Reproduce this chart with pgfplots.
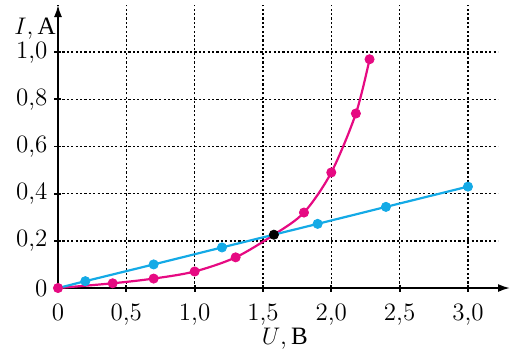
\documentclass[border=0pt]{standalone}
\usepackage{pgfplots}
\pgfplotsset{compat=1.18}
\usepackage{fontspec}
\newfontfamily\cyr{Liberation Serif}
\usetikzlibrary{arrows.meta}
\definecolor{mag}{RGB}{230,10,130}
\definecolor{cyn}{RGB}{20,170,230}
\begin{document}
\begin{tikzpicture}
\begin{axis}[name=ax, scale only axis, width=220pt, height=141.5pt,
  xmin=0, xmax=3.22, ymin=0, ymax=1.2,
  axis x line=bottom, axis y line=left,
  x axis line style={-{Latex[length=6pt,width=4pt]}, shorten >=-6pt, line width=0.9pt},
  y axis line style={-{Latex[length=6pt,width=4pt]}, line width=0.9pt},
  xtick={0,0.5,1,1.5,2,2.5,3},
  xticklabels={0,{0,5},{1,0},{1,5},{2,0},{2,5},{3,0}},
  ytick={0,0.2,0.4,0.6,0.8,1.0},
  yticklabels={0,{0,2},{0,4},{0,6},{0,8},{1,0}},
  every tick label/.append style={font=\fontsize{12.5}{14}\selectfont},
  xticklabel style={yshift=-2.5pt},
  tick align=center, major tick length=3.5pt,
  tick style={black, line width=0.9pt},
  grid=major,
  major grid style={black, line width=0.75pt, dash pattern=on 1.1pt off 1.1pt},
  clip=false,
]
\addplot[mag, line width=1.1pt, smooth, tension=0.5] coordinates {
 (0,0) (0.4,0.02) (0.7,0.04) (1.0,0.07) (1.3,0.13) (1.58,0.226) (1.8,0.32) (2.0,0.49) (2.18,0.74) (2.28,0.97)};
\addplot[cyn, line width=1.1pt] coordinates {
 (0,0) (0.2,0.029) (0.7,0.1) (1.2,0.172) (1.9,0.272) (2.4,0.344) (3.0,0.43)};
\addplot[only marks, mark=*, mark size=2.3pt, mag] coordinates {
 (0.4,0.02) (0.7,0.04) (1.0,0.07) (1.3,0.13) (1.8,0.32) (2.0,0.49) (2.18,0.74) (2.28,0.97)};
\addplot[only marks, mark=*, mark size=2.3pt, cyn] coordinates {
 (0.2,0.029) (0.7,0.1) (1.2,0.172) (1.9,0.272) (2.4,0.344) (3.0,0.43)};
\addplot[only marks, mark=*, mark size=2.3pt, mag] coordinates {(0,0)};
\addplot[only marks, mark=*, mark size=2.3pt, black] coordinates {(1.58,0.226)};
\node[anchor=east, inner sep=1pt, font=\fontsize{12.5}{14}\selectfont] at (axis cs:0,1.1) {$I${,}\,{\cyr А}};
\node[inner sep=0pt, font=\fontsize{12.5}{14}\selectfont] at (axis cs:1.66,-0.215) {$U${,}\,{\cyr В}};
\end{axis}
\path (ax.south west) ++(-29pt,-31pt) rectangle ++(259pt,175pt);
\end{tikzpicture}
\end{document}
